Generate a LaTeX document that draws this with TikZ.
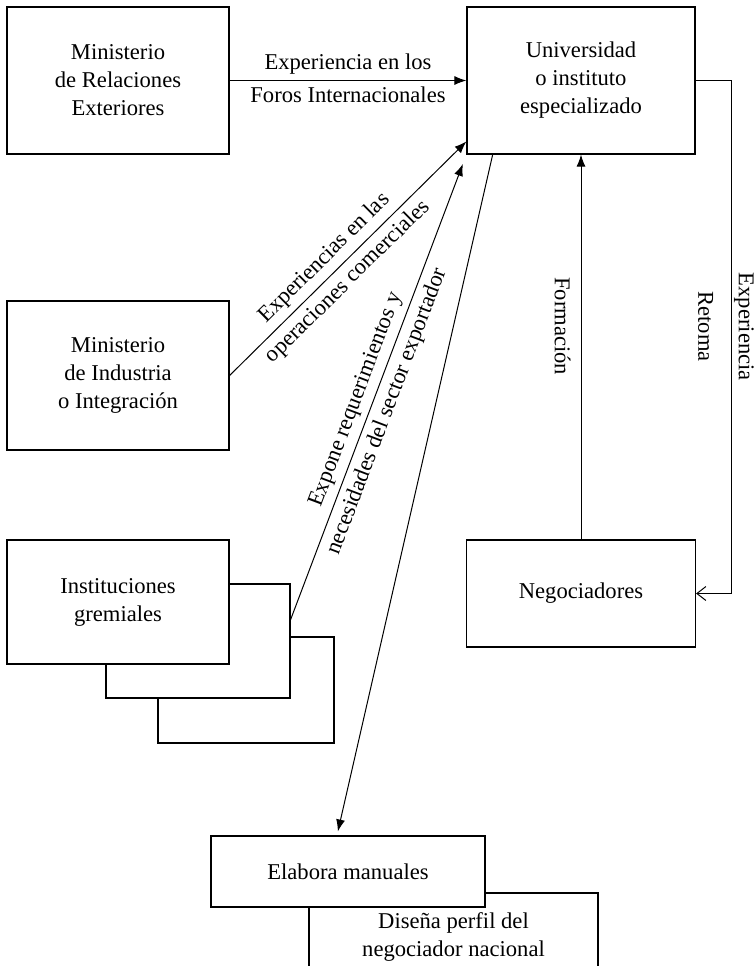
\documentclass[tikz,border=0pt]{standalone}
\usepackage{fontspec}
\setmainfont{Liberation Serif}
\usetikzlibrary{arrows.meta}

\tikzset{
  box/.style={draw, fill=white, line width=0.6pt, align=center, inner sep=2pt},
  lbl/.style={inner sep=3pt},
  arr/.style={line width=0.5pt, -{Latex[length=6pt,width=4.5pt]}},
  openarr/.style={line width=0.5pt, -{Straight Barb[length=4.5pt,width=7pt]}}
}

\begin{document}
\begin{tikzpicture}[x=0.5pt, y=0.5pt, font=\fontsize{11.3}{14}\selectfont]
\useasboundingbox (0,0) rectangle (756,-966);
\clip (0,0) rectangle (756,-966);

% Ministerios y universidad
\node[box, minimum width=111pt, minimum height=73.5pt] (mre) at (118,-80.5) {Ministerio\\de Relaciones\\Exteriores};
\node[box, minimum width=114pt, minimum height=73.5pt] (univ) at (581,-80.5) {Universidad\\o instituto\\especializado};
\node[box, minimum width=111pt, minimum height=74.5pt] (mdi) at (118,-375.5) {Ministerio\\de Industria\\o Integración};

% Instituciones gremiales (apiladas)
\node[box, minimum width=88pt, minimum height=53pt] (ins3) at (246,-690) {};
\node[box, minimum width=92pt, minimum height=57pt] (ins2) at (198,-641) {};
\node[box, minimum width=111pt, minimum height=62pt] (ins) at (118,-602) {Instituciones\\gremiales};

% Negociadores
\node[box, minimum width=114.5pt, minimum height=53.5pt] (neg) at (581,-593.5) {Negociadores};

% Manuales y perfil
\node[box, minimum width=144.5pt, minimum height=44pt] (dis) at (453.5,-937) {Diseña perfil del\\negociador nacional};
\node[box, minimum width=137pt, minimum height=35.5pt] (elab) at (348,-871.5) {Elabora manuales};

% Flechas
\draw[arr] (mre) -- (univ)
  node[lbl, midway, above] {Experiencia en los}
  node[lbl, midway, below] {Foros Internacionales};
\draw[arr] (mdi.east) -- (univ.208.7)
  node[lbl, pos=.45, sloped, above] {Experiencias en las}
  node[lbl, pos=.45, sloped, below] {operaciones comerciales};
\draw[arr, shorten >=5pt] (ins2.13) -- (univ.south west)
  node[lbl, pos=.46, sloped, above] {Expone requerimientos y}
  node[lbl, pos=.46, sloped, below] {necesidades del sector exportador};
\draw[arr, shorten >=2pt] (univ.220.5) -- (elab.107);
\draw[arr] (neg) -- (univ)
  node[lbl, pos=.554, anchor=north, rotate=-90, inner ysep=5pt] {Formación};
\draw[openarr] (univ.east) -- ++(18pt,0) |-
  node[lbl, pos=.24, anchor=south, rotate=-90, inner ysep=1pt] {Experiencia}
  node[lbl, pos=.24, anchor=north, rotate=-90, inner ysep=9pt] {Retoma}
  (neg.east);
\end{tikzpicture}
\end{document}
